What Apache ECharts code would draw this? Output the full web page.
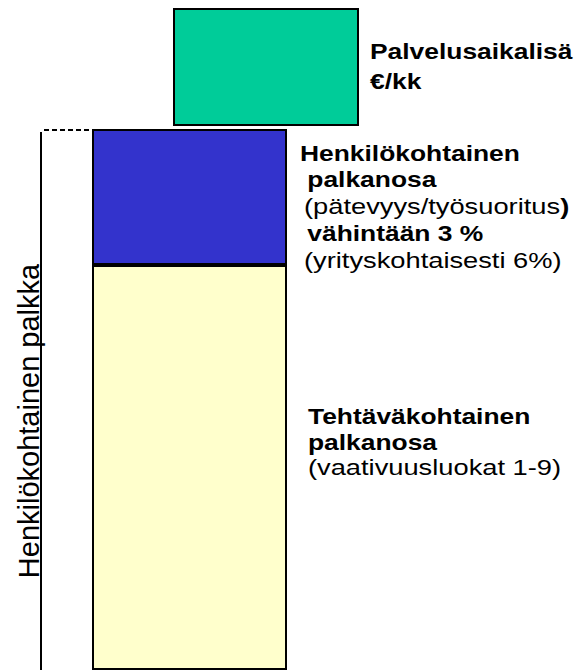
<!DOCTYPE html>
<html>
<head>
<meta charset="utf-8">
<script src="https://cdn.jsdelivr.net/npm/echarts@6/dist/echarts.min.js"></script>
<style>
html,body{margin:0;padding:0;background:#fff;}
#chart{width:587px;height:670px;}
</style>
</head>
<body>
<div id="chart"></div>
<script>
// ---- data (heights, arbitrary units = px) ----
const categories = ['Henkilökohtainen palkka'];
const lisaCategories = ['Palvelusaikalisä'];
const tehtavakohtainen = [408];     // yellow block (runs off the bottom)
const henkilokohtainen = [137];     // blue block
const palvelusaikalisa = [119];     // green block
const lisaGap = [3];                // small gap between blue top and green bottom
const axisMax = 675;

const lisaLines = ['Palvelusaikalisä', '€/kk'];
const henkLines = ['Henkilökohtainen', ' palkanosa', '(pätevyys/työsuoritus', ')', ' vähintään 3 %', '(yrityskohtaisesti 6%)'];
const tehtLines = ['Tehtäväkohtainen', 'palkanosa', '(vaativuusluokat 1-9)'];
const bracketLabel = 'Henkilökohtainen palkka';

const lisaBase = tehtavakohtainen.map((v, i) => v + henkilokohtainen[i] + lisaGap[i]);

const FONT = '"Liberation Sans", Arial, sans-serif';
function txt(t, x, y, bold, sx) {
  return {
    type: 'text', x: x, y: y, scaleX: sx, scaleY: 1,
    style: {
      text: t, fill: '#000',
      font: (bold ? 'bold ' : '') + '22px ' + FONT,
      textAlign: 'left', align: 'left',
      textVerticalAlign: 'middle', verticalAlign: 'middle'
    }
  };
}
const SB = 1.2, SR = 1.24;

const chart = echarts.init(document.getElementById('chart'), null, { renderer: 'svg' });
chart.setOption({
  animation: false,
  backgroundColor: '#fff',
  grid: [
    { left: 92, width: 195, top: 0, height: axisMax },
    { left: 173, width: 186, top: 0, height: axisMax }
  ],
  xAxis: [
    { type: 'category', data: categories, gridIndex: 0, show: false },
    { type: 'category', data: lisaCategories, gridIndex: 1, show: false }
  ],
  yAxis: [
    { type: 'value', min: 0, max: axisMax, gridIndex: 0, show: false },
    { type: 'value', min: 0, max: axisMax, gridIndex: 1, show: false }
  ],
  series: [
    { type: 'bar', name: 'Tehtäväkohtainen palkanosa', xAxisIndex: 0, yAxisIndex: 0, stack: 'p',
      data: tehtavakohtainen, barWidth: '100%',
      itemStyle: { color: '#FFFFCC', borderColor: '#000', borderWidth: 2 } },
    { type: 'bar', name: 'Henkilökohtainen palkanosa', xAxisIndex: 0, yAxisIndex: 0, stack: 'p',
      data: henkilokohtainen, barWidth: '100%',
      itemStyle: { color: '#3333CC', borderColor: '#000', borderWidth: 2 } },
    { type: 'bar', name: 'base', xAxisIndex: 1, yAxisIndex: 1, stack: 'g',
      data: lisaBase, barWidth: '100%', silent: true,
      itemStyle: { color: 'rgba(0,0,0,0)', borderWidth: 0 } },
    { type: 'bar', name: 'Palvelusaikalisä', xAxisIndex: 1, yAxisIndex: 1, stack: 'g',
      data: palvelusaikalisa, barWidth: '100%',
      itemStyle: { color: '#00CC99', borderColor: '#000', borderWidth: 2 } }
  ],
  graphic: [
    { type: 'line', shape: { x1: 41, y1: 132, x2: 41, y2: 672 }, style: { stroke: '#000', lineWidth: 2 } },
    { type: 'line', shape: { x1: 44, y1: 130, x2: 91, y2: 130 }, style: { stroke: '#000', lineWidth: 2, lineDash: [5, 3] } },
    { type: 'text', x: 29, y: 421, rotation: Math.PI / 2,
      style: { text: bracketLabel, fill: '#000', font: '29px ' + FONT,
        textAlign: 'center', align: 'center', textVerticalAlign: 'middle', verticalAlign: 'middle' } },
    txt(lisaLines[0], 370, 51, true, SB),
    txt(lisaLines[1], 370, 81, true, SB),
    txt(henkLines[0], 300, 153, true, SB),
    txt(henkLines[1], 300, 179, true, SB),
    {
      type: 'text', x: 304, y: 206, scaleX: SR,
      style: { text: '{r|' + henkLines[2] + '}{b|' + henkLines[3] + '}', fill: '#000',
        font: '22px ' + FONT, textVerticalAlign: 'middle', verticalAlign: 'middle',
        rich: { r: { font: '22px ' + FONT, fill: '#000' }, b: { font: 'bold 22px ' + FONT, fill: '#000' } } }
    },
    txt(henkLines[4], 300, 233, true, SB),
    txt(henkLines[5], 304, 260, false, SR),
    txt(tehtLines[0], 308, 416, true, SB),
    txt(tehtLines[1], 308, 442, true, SB),
    txt(tehtLines[2], 308, 467, false, SR)
  ]
});
</script>
</body>
</html>
